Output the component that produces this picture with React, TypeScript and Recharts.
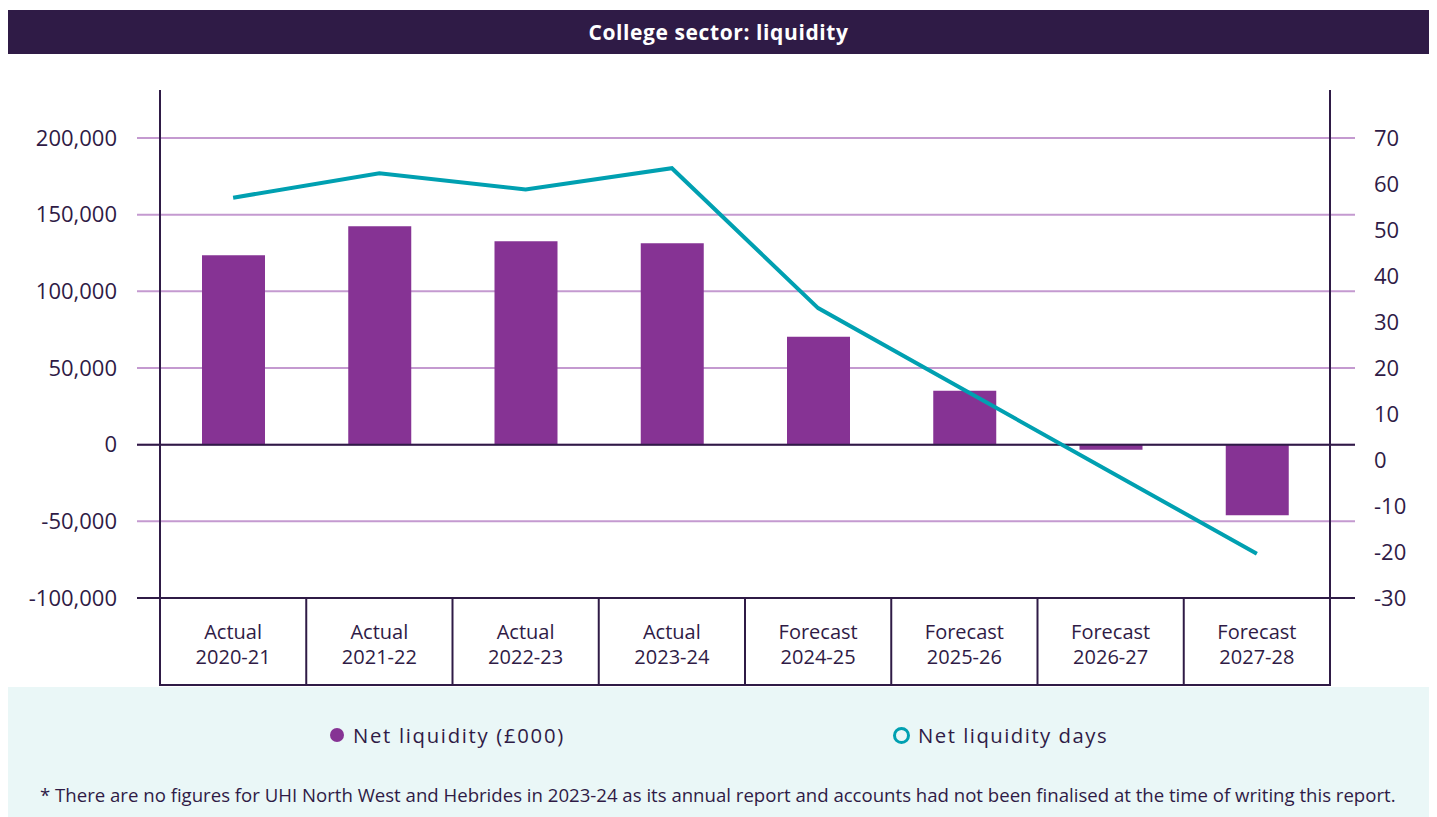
import React from 'react';
import {
  ComposedChart,
  Bar,
  Line,
  XAxis,
  YAxis,
  CartesianGrid,
  ReferenceLine,
} from 'recharts';

// values
const periods = [
  'Actual 2020-21',
  'Actual 2021-22',
  'Actual 2022-23',
  'Actual 2023-24',
  'Forecast 2024-25',
  'Forecast 2025-26',
  'Forecast 2026-27',
  'Forecast 2027-28',
];
const netLiquidity = [123500, 142500, 132700, 131400, 70400, 35200, -3300, -46100];
const liquidityDays = [57.0, 62.3, 58.8, 63.4, 33.0, 15.2, -2.6, -20.4];
const leftTicks = [-100000, -50000, 0, 50000, 100000, 150000, 200000];
const rightTicks = [-30, -20, -10, 0, 10, 20, 30, 40, 50, 60, 70];

const barName = 'Net liquidity (£000)';
const lineName = 'Net liquidity days';
const footnote =
  '* There are no figures for UHI North West and Hebrides in 2023-24 as its annual report and accounts had not been finalised at the time of writing this report.';

const data = periods.map((p, i) => ({ period: p, net: netLiquidity[i], days: liquidityDays[i] }));

const DARK = '#2f1b46';
const PURPLE = '#863394';
const TEAL = '#00a0b1';
const GRID = '#c49ad0';
const FONT = '"Open Sans", sans-serif';

const W = 1421;
const LEFT_W = 152;
const RIGHT_W = 99;
const PLOT_W = W - LEFT_W - RIGHT_W;
const XAXIS_H = 87;

const CategoryTick = (props: any) => {
  const { x, y, payload, index } = props;
  const band = PLOT_W / periods.length;
  const [kind, year] = String(payload.value).split(' ');
  return (
    <g>
      <line x1={x - band / 2} x2={x - band / 2} y1={y} y2={y + XAXIS_H} stroke={DARK} strokeWidth={2} />
      {index === periods.length - 1 && (
        <line x1={x + band / 2} x2={x + band / 2} y1={y} y2={y + XAXIS_H} stroke={DARK} strokeWidth={2} />
      )}
      <line x1={x - band / 2 - 1} x2={x + band / 2 + 1} y1={y + XAXIS_H} y2={y + XAXIS_H} stroke={DARK} strokeWidth={2} />
      <text x={x} y={y + 41} textAnchor="middle" fill={DARK} fontFamily={FONT} fontSize={20}>
        {kind}
      </text>
      <text x={x} y={y + 66} textAnchor="middle" fill={DARK} fontFamily={FONT} fontSize={20}>
        {year}
      </text>
    </g>
  );
};

const gridLine = (p: any) => (
  <line key={p.key} x1={p.x1 - 23} x2={p.x2 + 25} y1={p.y1} y2={p.y2} stroke={GRID} strokeWidth={2} />
);

const darkLine = (p: any) => (
  <line x1={p.x1 - 23} x2={p.x2 + 25} y1={p.y1} y2={p.y2} stroke={DARK} strokeWidth={2} />
);

export default function App() {
  return (
    <div style={{ width: W, paddingTop: 2 }}>
      <div
        style={{
          height: 44,
          lineHeight: '44px',
          background: DARK,
          color: '#fff',
          textAlign: 'center',
          fontFamily: FONT,
          fontWeight: 700,
          fontSize: 21,
          letterSpacing: 0.6,
        }}
      >
        College sector: liquidity
      </div>
      <ComposedChart width={W} height={633} data={data} margin={{ top: 36, right: 0, bottom: 2, left: 0 }}>
        <CartesianGrid yAxisId="left" vertical={false} horizontal={gridLine} syncWithTicks />
        <XAxis
          dataKey="period"
          height={XAXIS_H}
          interval={0}
          tickLine={false}
          tickSize={0}
          tickMargin={0}
          axisLine={{ stroke: DARK, strokeWidth: 2 }}
          tick={<CategoryTick />}
        />
        <YAxis
          yAxisId="left"
          width={LEFT_W}
          domain={[-100000, 231300]}
          ticks={leftTicks}
          allowDataOverflow
          tickLine={false}
          tickSize={0}
          tickMargin={43}
          axisLine={{ stroke: DARK, strokeWidth: 2 }}
          tickFormatter={(v: number) => v.toLocaleString('en-GB')}
          tick={{ fill: DARK, fontFamily: FONT, fontSize: 22 }}
        />
        <YAxis
          yAxisId="right"
          orientation="right"
          width={RIGHT_W}
          domain={[-30, 80.4]}
          ticks={rightTicks}
          allowDataOverflow
          tickLine={false}
          tickSize={0}
          tickMargin={44}
          axisLine={{ stroke: DARK, strokeWidth: 2 }}
          tick={{ fill: DARK, fontFamily: FONT, fontSize: 22, textAnchor: 'start' }}
        />
        <ReferenceLine yAxisId="left" y={-100000} shape={darkLine} />
        <Bar yAxisId="left" dataKey="net" name={barName} fill={PURPLE} barSize={63} isAnimationActive={false} />
        <ReferenceLine yAxisId="left" y={0} shape={darkLine} />
        <Line
          yAxisId="right"
          type="linear"
          dataKey="days"
          name={lineName}
          stroke={TEAL}
          strokeWidth={4}
          dot={false}
          activeDot={false}
          isAnimationActive={false}
        />
      </ComposedChart>
      <div
        style={{
          position: 'relative',
          height: 130,
          background: '#eaf7f7',
          color: DARK,
          fontFamily: FONT,
        }}
      >
        <div style={{ position: 'absolute', left: 322, top: 34, display: 'flex', alignItems: 'center', fontSize: 20.3, letterSpacing: 1.7 }}>
          <span style={{ width: 14, height: 14, borderRadius: '50%', background: PURPLE, marginRight: 9, display: 'inline-block' }} />
          {barName}
        </div>
        <div style={{ position: 'absolute', left: 885, top: 34, display: 'flex', alignItems: 'center', fontSize: 20.3, letterSpacing: 1.5 }}>
          <span style={{ width: 11, height: 11, borderRadius: '50%', border: `3px solid ${TEAL}`, marginRight: 8, display: 'inline-block' }} />
          {lineName}
        </div>
        <div style={{ position: 'absolute', left: 32, top: 95, fontSize: 18.6, whiteSpace: 'nowrap' }}>{footnote}</div>
      </div>
    </div>
  );
}
